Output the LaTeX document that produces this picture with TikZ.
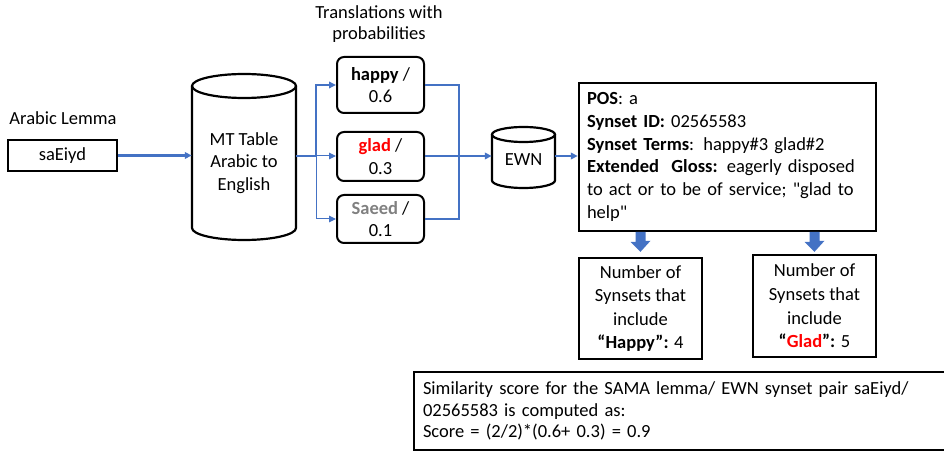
\documentclass[tikz,border=0pt]{standalone}
\usepackage{fontspec}
\setmainfont{Carlito}[Ligatures=TeXOff]
\usetikzlibrary{arrows.meta,calc}
\definecolor{linkblue}{HTML}{4472C4}
\definecolor{wordred}{HTML}{FF0000}
\definecolor{wordgray}{HTML}{808080}
\begin{document}
\begin{tikzpicture}[x=1pt,y=-1pt,
  every node/.style={font=\fontsize{18.5}{22.8}\selectfont, inner sep=0pt},
  plainbox/.style={draw, line width=2.4pt, align=center},
  roundbox/.style={draw, line width=2pt, rounded corners=7pt, align=center, minimum width=87},
  link/.style={draw=linkblue, line width=2.4pt, -{Triangle[length=7pt,width=6.5pt]}},
  thinlink/.style={draw=linkblue, line width=1pt, -{Triangle[length=7pt,width=6.5pt]}},
  joinline/.style={draw=linkblue, line width=2.4pt},
  drum/.style={draw, line width=2.2pt},
  blockarrow/.style={fill=linkblue},
  countbox/.style={draw, line width=2.4pt, align=center, minimum width=123, font=\fontsize{18.5}{23.6}\selectfont},
]
\useasboundingbox (0,0) rectangle (944,454);
\clip (0,0) rectangle (944,454);

% input lemma
\node (lemmalabel) at (63,118) {Arabic Lemma};
\node[plainbox, minimum width=109, minimum height=31] (lemma) at (62.5,155.5) {saEiyd};

% translation table drawn as a drum
\draw[drum] (192,86) -- (192,228) arc[start angle=180, end angle=0, x radius=52, y radius=12] -- (296,86);
\draw[drum] (244,86) ellipse[x radius=52, y radius=12];
\node[align=center, minimum width=104] (mt) at (244,163) {MT Table\\Arabic to\\English};

% candidate translations
\node (translabel) [align=center, font=\fontsize{18.5}{21}\selectfont] at (379,24) {Translations with\\probabilities};
\node[roundbox, minimum height=56] (happy) at (380.5,85) {\textbf{happy} /\\0.6};
\node[roundbox, minimum height=49] (glad) at (380.5,156.5) {\textbf{\color{wordred}glad} /\\0.3};
\node[roundbox, minimum height=48] (saeed) at (380.5,219) {\textbf{\color{wordgray}Saeed} /\\0.1};

% wordnet drum
\draw[drum] (492,134.5) -- (492,180.5) arc[start angle=180, end angle=0, x radius=31.5, y radius=7.5] -- (555,134.5);
\draw[drum] (523.5,134.5) ellipse[x radius=31.5, y radius=7.5];
\node[minimum width=63] (ewn) at (523.5,160) {EWN};

% synset record
\node[draw, line width=2.4pt, minimum width=297, minimum height=148, text width=281, align=left] (info) at (727.5,157)
  {\textbf{POS}: a\\
   \textbf{Synset ID:} 02565583\\
   \textbf{Synset Terms}: happy\#3 glad\#2\\
   \textbf{Extended\ \ Gloss:} eagerly disposed\\
   to act or to be of service; "glad to\\
   help"};

% synset counts
\node[countbox, minimum height=101] (numhappy) at (640.5,308.5)
  {Number of\\Synsets that\\include\\\textbf{“Happy”:} 4};
\node[countbox, minimum height=102] (numglad) at (814.5,306)
  {Number of\\Synsets that\\include\\\textbf{“{\color{wordred}Glad}”:} 5};

% final score
\node[draw, line width=2.4pt, minimum width=536, minimum height=78, text width=518, align=left,
      font=\fontsize{18.5}{21.5}\selectfont] (score) at (682,411)
  {Similarity score for the SAMA lemma/ EWN synset pair saEiyd/\\
   02565583 is computed as:\\
   Score = (2/2)*(0.6+ 0.3) = 0.9};

% connectors
\coordinate (split) at (316,156);
\coordinate (merge) at (459,156);
\draw[link] (lemma.east) -- (lemma.east -| mt.west);
\draw[joinline] (mt.east |- split) -- (split);
\draw[link] (split) |- (happy.west);
\draw[thinlink] (split) -- (glad.west |- split);
\draw[thinlink] (split) |- (saeed.west);
\draw[joinline] (happy.east) -| (merge);
\draw[joinline] (saeed.east) -| (merge);
\draw[link] (glad.east |- merge) -- (ewn.west |- merge);
\draw[link] (ewn.east |- merge) -- (info.west |- merge);

% block arrows from the record to the counts
\fill[blockarrow] ($(numhappy.north)+(-5,-25)$) -- ++(10,0) -- ++(0,9) -- ++(5,0) -- ($(numhappy.north)+(0,-5)$) -- ++(-10,-10) -- ++(5,0) -- cycle;
\fill[blockarrow] ($(numglad.north)+(-5,-22)$) -- ++(10,0) -- ++(0,9) -- ++(5,0) -- ($(numglad.north)+(0,-2)$) -- ++(-10,-10) -- ++(5,0) -- cycle;
\end{tikzpicture}
\end{document}
